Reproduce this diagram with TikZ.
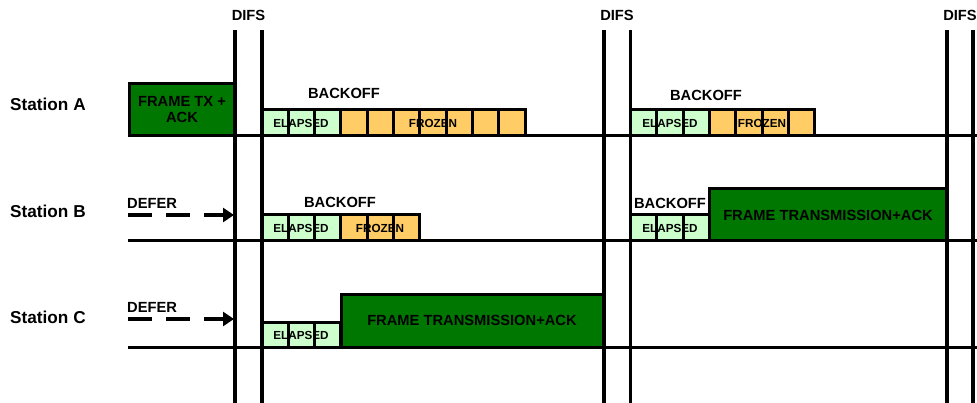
\documentclass[tikz,border=0pt]{standalone}
\usepackage{fontspec}
\setmainfont{Liberation Sans}
\usetikzlibrary{arrows.meta}
\definecolor{framegreen}{RGB}{0,119,0}
\definecolor{elapsedgreen}{RGB}{204,255,204}
\definecolor{frozenorange}{RGB}{255,204,102}
\begin{document}
\begin{tikzpicture}[x=1pt,y=-1pt,
  lbl/.style={font=\fontsize{14.7}{16}\selectfont\bfseries, inner sep=0pt},
  stlbl/.style={font=\fontsize{17.2}{19}\selectfont\bfseries, inner sep=0pt, anchor=west},
  smalllbl/.style={font=\fontsize{11.7}{13}\selectfont\bfseries, inner sep=0pt},
  ecell/.style={fill=elapsedgreen},
  fcell/.style={fill=frozenorange},
  cellborder/.style={draw=black, line width=3pt},
  framebox/.style={fill=framegreen, draw=black, line width=3pt},
  tline/.style={line width=3pt},
  vline/.style={line width=3.2pt},
  deferarrow/.style={line width=3.2pt, dash pattern=on 24pt off 14pt, -{Triangle[length=11pt,width=14pt]}}
]
\useasboundingbox (0,0) rectangle (977,403);
\def\cw{26.3}

% ---------- cell fills ----------
\foreach \i in {0,1,2} \fill[ecell] ({262+\cw*\i},110) rectangle ++(\cw,26);
\foreach \i in {3,...,9} \fill[fcell] ({262+\cw*\i},110) rectangle ++(\cw,26);
\foreach \i in {0,1,2} \fill[ecell] ({630.5+\cw*\i},110) rectangle ++(\cw,26);
\foreach \i in {3,...,6} \fill[fcell] ({630.5+\cw*\i},110) rectangle ++(\cw,26);
\foreach \i in {0,1,2} \fill[ecell] ({262+\cw*\i},215) rectangle ++(\cw,26);
\foreach \i in {3,4,5} \fill[fcell] ({262+\cw*\i},215) rectangle ++(\cw,26);
\foreach \i in {0,1,2} \fill[ecell] ({630.5+\cw*\i},215) rectangle ++(\cw,26);
\foreach \i in {0,1,2} \fill[ecell] ({262+\cw*\i},322) rectangle ++(\cw,25);

% ---------- cell texts (under the borders) ----------
\node[smalllbl] (ael1) at (301,123) {ELAPSED};
\node[smalllbl] (afr1) at (433,123) {FROZEN};
\node[smalllbl] (ael2) at (670,123) {ELAPSED};
\node[smalllbl] (afr2) at (762,123) {FROZEN};
\node[smalllbl] (bel1) at (301,228) {ELAPSED};
\node[smalllbl] (bfr1) at (380,228) {FROZEN};
\node[smalllbl] (bel2) at (670,228) {ELAPSED};
\node[smalllbl] (cel1) at (301,335) {ELAPSED};

% ---------- cell borders ----------
\foreach \i in {0,...,9} \draw[cellborder] ({262+\cw*\i},110) rectangle ++(\cw,26);
\foreach \i in {0,...,6} \draw[cellborder] ({630.5+\cw*\i},110) rectangle ++(\cw,26);
\foreach \i in {0,...,5} \draw[cellborder] ({262+\cw*\i},215) rectangle ++(\cw,26);
\foreach \i in {0,1,2} \draw[cellborder] ({630.5+\cw*\i},215) rectangle ++(\cw,26);
\foreach \i in {0,1,2} \draw[cellborder] ({262+\cw*\i},322) rectangle ++(\cw,25);

% ---------- frame boxes ----------
\draw[framebox] (129,84) rectangle (235,136);
\node[lbl, align=center] (atx) at (182,110) {FRAME TX +\\ACK};
\draw[framebox] (709.5,189) rectangle (947,241);
\node[lbl] (btx) at (828,215) {FRAME TRANSMISSION+ACK};
\draw[framebox] (341,295) rectangle (604,347);
\node[lbl] (ctx) at (472,320) {FRAME TRANSMISSION+ACK};

% ---------- backoff labels ----------
\node[lbl] (abo1) at (344,93) {BACKOFF};
\node[lbl] (abo2) at (706,95) {BACKOFF};
\node[lbl] (bbo1) at (340,202) {BACKOFF};
\node[lbl] (bbo2) at (670,203) {BACKOFF};

% ---------- timelines ----------
\coordinate (a0) at (128,136); \coordinate (a1) at (977,136);
\coordinate (b0) at (128,241); \coordinate (b1) at (977,241);
\coordinate (c0) at (128,347); \coordinate (c1) at (977,347);
\draw[tline] (a0) -- (a1);
\draw[tline] (b0) -- (b1);
\draw[tline] (c0) -- (c1);

% ---------- DIFS vertical lines ----------
\foreach \x/\n in {235/d1,262/d2,604/d3,630.5/d4,947/d5,973/d6} {
  \coordinate (\n t) at (\x,30);
  \coordinate (\n b) at (\x,403);
  \draw[vline] (\n t) -- (\n b);
}
\node[lbl] (difs1) at (248.5,15) {DIFS};
\node[lbl] (difs2) at (617,15) {DIFS};
\node[lbl] (difs3) at (960,15) {DIFS};

% ---------- station labels ----------
\node[stlbl] (sa) at (10,104) {Station A};
\node[stlbl] (sb) at (10,211) {Station B};
\node[stlbl] (sc) at (10,317) {Station C};

% ---------- defer arrows ----------
\node[lbl, anchor=west] (bdef) at (127,203) {DEFER};
\node[lbl, anchor=west] (cdef) at (127,307) {DEFER};
\coordinate (bd0) at (128,215); \coordinate (bd1) at (234,215);
\coordinate (cd0) at (128,319); \coordinate (cd1) at (234,319);
\draw[deferarrow] (bd0) -- (bd1);
\draw[deferarrow] (cd0) -- (cd1);
\end{tikzpicture}
\end{document}
